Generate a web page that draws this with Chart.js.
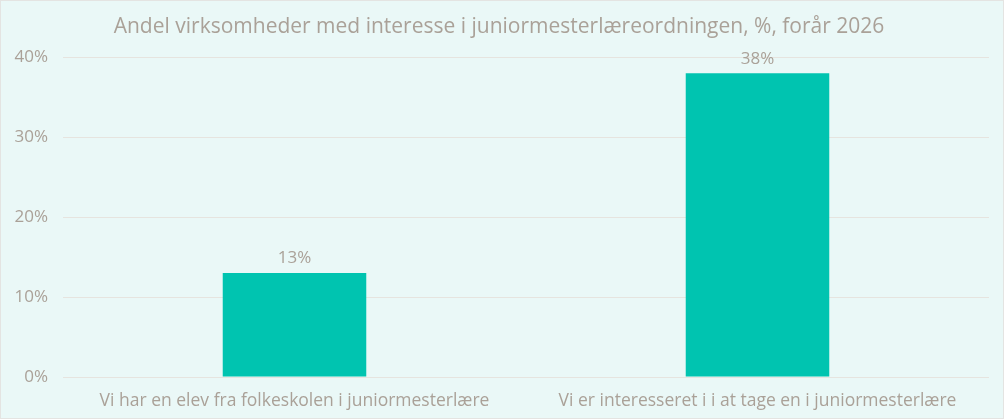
<!DOCTYPE html>
<html>
<head>
<meta charset="utf-8">
<script src="https://cdn.jsdelivr.net/npm/chart.js@4/dist/chart.umd.min.js"></script>
<style>
    html, body { margin: 0; padding: 0; background: #ffffff; }
    #wrap {
        width: 1002px;
        height: 417px;
        border: 1px solid #e4e4e2;
        background: #eaf8f7;
        position: relative;
    }
</style>
</head>
<body>
<div id="wrap"><canvas id="bar-chart"></canvas></div>
<script>
// Chart data
const categories = ['Vi har en elev fra folkeskolen i juniormesterlære', 'Vi er interesseret i i at tage en i juniormesterlære'];
const shares = [13, 38];
const yTicks = [0, 10, 20, 30, 40];
const chartTitle = 'Andel virksomheder med interesse i juniormesterlæreordningen, %, forår 2026';

const textColor = '#aaa198';
const gridColor = '#e6e4df';
const barColor = '#00c4b0';
const fontFamily = '"Open Sans", sans-serif';

// Value labels above the bars
const valueLabels = {
    id: 'valueLabels',
    afterDatasetsDraw(chart) {
        const ctx = chart.ctx;
        ctx.save();
        ctx.fillStyle = textColor;
        ctx.font = '17px ' + fontFamily;
        ctx.textAlign = 'center';
        ctx.textBaseline = 'bottom';
        chart.getDatasetMeta(0).data.forEach((bar, i) => {
            ctx.fillText(shares[i] + '%', bar.x, bar.y - 6);
        });
        ctx.restore();
    }
};

const ctx = document.getElementById('bar-chart').getContext('2d');
new Chart(ctx, {
    type: 'bar',
    data: {
        labels: categories,
        datasets: [{
            data: shares,
            backgroundColor: barColor,
            borderWidth: 0,
            categoryPercentage: 1,
            barPercentage: 0.31
        }]
    },
    options: {
        responsive: true,
        maintainAspectRatio: false,
        animation: false,
        layout: { padding: { left: 8, right: 14, top: 6, bottom: 0 } },
        plugins: {
            legend: { display: false },
            tooltip: { enabled: false },
            title: {
                display: true,
                text: chartTitle,
                color: textColor,
                font: { family: fontFamily, size: 21, weight: 'normal' },
                padding: { top: 7, bottom: 18 }
            }
        },
        scales: {
            y: {
                min: 0,
                max: 40,
                afterBuildTicks: axis => { axis.ticks = yTicks.map(v => ({ value: v })); },
                afterFit: axis => { axis.width = 54; },
                grid: { color: gridColor, drawTicks: false },
                border: { display: false },
                ticks: {
                    color: textColor,
                    padding: 15,
                    font: { family: fontFamily, size: 17 },
                    callback: v => v + '%'
                }
            },
            x: {
                grid: { display: false },
                border: { display: false },
                ticks: {
                    color: textColor,
                    padding: 6,
                    maxRotation: 0,
                    font: { family: fontFamily, size: 17.5 }
                }
            }
        }
    },
    plugins: [valueLabels]
});
</script>
</body>
</html>
